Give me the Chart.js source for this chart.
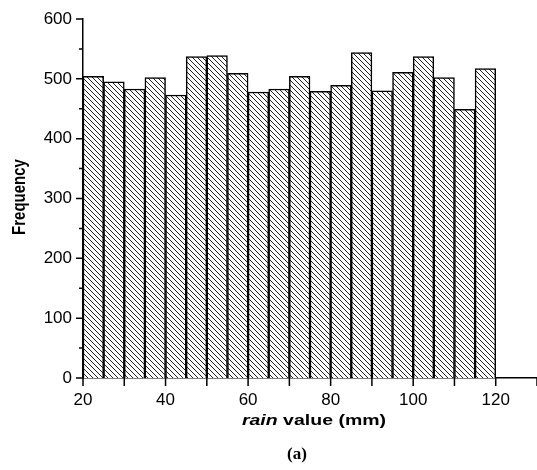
<!DOCTYPE html>
<html>
<head>
<meta charset="utf-8">
<script src="https://cdn.jsdelivr.net/npm/chart.js@4/dist/chart.umd.min.js"></script>
<style>
  body { margin: 0; background: #fff; }
  #wrap { width: 537px; height: 470px; position: relative; }
</style>
</head>
<body>
<div id="wrap"><canvas id="histChart"></canvas></div>
<script>
// histogram bins (5 mm wide), centres on the x axis
const binCenters = [22.5, 27.5, 32.5, 37.5, 42.5, 47.5, 52.5, 57.5, 62.5, 67.5,
                    72.5, 77.5, 82.5, 87.5, 92.5, 97.5, 102.5, 107.5, 112.5, 117.5];
const frequency = [504, 495, 483, 502, 473, 537, 539, 509, 478, 483,
                   504, 479, 489, 544, 480, 511, 537, 502, 449, 517];
const xTickLabels = [20, 40, 60, 80, 100, 120];
const xMinorTicks = [30, 50, 70, 90, 110, 130];
const yTickLabels = [0, 100, 200, 300, 400, 500, 600];
const yMinorTicks = [50, 150, 250, 350, 450, 550];

const FONT = "'Liberation Sans', Arial, sans-serif";

// "\\\\" hatch fill
function makeHatch() {
  const c = document.createElement("canvas");
  c.width = 5;
  c.height = 5;
  const g = c.getContext("2d");
  g.fillStyle = "#fff";
  g.fillRect(0, 0, 5, 5);
  g.fillStyle = "#222";
  for (let i = 0; i < 5; i++) g.fillRect(i, i, 1, 1);
  return g.createPattern(c, "repeat");
}

// ticks + axis titles drawn on top
const decorations = {
  id: "decorations",
  afterDraw(chart) {
    const ctx = chart.ctx;
    const xs = chart.scales.x;
    const ys = chart.scales.y;
    const axisY = ys.getPixelForValue(0);
    const axisX = xs.getPixelForValue(20);

    ctx.save();
    ctx.strokeStyle = "#000";
    ctx.lineWidth = 1.5;
    ctx.beginPath();
    yTickLabels.forEach(v => {
      const p = ys.getPixelForValue(v);
      ctx.moveTo(axisX - 7, p);
      ctx.lineTo(axisX, p);
    });
    yMinorTicks.forEach(v => {
      const p = ys.getPixelForValue(v);
      ctx.moveTo(axisX - 4, p);
      ctx.lineTo(axisX, p);
    });
    xTickLabels.concat(xMinorTicks).forEach(v => {
      const p = xs.getPixelForValue(v);
      ctx.moveTo(p, axisY);
      ctx.lineTo(p, axisY + 8);
    });
    ctx.stroke();

    ctx.fillStyle = "#000";
    ctx.textBaseline = "middle";

    // y title
    ctx.save();
    ctx.translate(20, 197);
    ctx.scale(1.25, 1);
    ctx.rotate(-Math.PI / 2);
    ctx.textAlign = "center";
    ctx.font = "bold 15px " + FONT;
    ctx.fillText("Frequency", 0, 0);
    ctx.restore();

    // x title: italic "rain" + " value (mm)"
    ctx.save();
    ctx.translate(314, 421);
    ctx.scale(1.3, 1);
    const partA = "rain";
    const partB = " value (mm)";
    ctx.font = "italic bold 15px " + FONT;
    const wa = ctx.measureText(partA).width;
    ctx.font = "bold 15px " + FONT;
    const wb = ctx.measureText(partB).width;
    let x0 = -(wa + wb) / 2;
    ctx.textAlign = "left";
    ctx.font = "italic bold 15px " + FONT;
    ctx.fillText(partA, x0, 0);
    ctx.font = "bold 15px " + FONT;
    ctx.fillText(partB, x0 + wa, 0);
    ctx.restore();

    // panel label
    ctx.textAlign = "center";
    ctx.font = "bold 17px 'Liberation Serif', 'Times New Roman', serif";
    ctx.fillText("(a)", 297, 455);
    ctx.restore();
  }
};

const ctx = document.getElementById("histChart");

new Chart(ctx, {
  type: "bar",
  data: {
    datasets: [{
      label: "Frequency",
      data: binCenters.map((x, i) => ({ x: x, y: frequency[i] })),
      backgroundColor: makeHatch(),
      borderColor: "#000",
      borderWidth: 1.5,
      barPercentage: 1,
      categoryPercentage: 1
    }]
  },
  options: {
    responsive: true,
    maintainAspectRatio: false,
    devicePixelRatio: 1,
    animation: false,
    layout: { padding: { top: 19, left: 0, right: 0, bottom: 0 } },
    plugins: {
      legend: { display: false },
      tooltip: { enabled: false }
    },
    scales: {
      x: {
        type: "linear",
        min: 20,
        max: 130,
        offset: false,
        grid: { display: false, drawTicks: false, offset: false },
        border: { display: true, color: "#000", width: 1.5 },
        ticks: {
          stepSize: 10,
          autoSkip: false,
          maxRotation: 0,
          padding: 12,
          color: "#000",
          font: { family: FONT, size: 17 },
          callback: v => (xTickLabels.includes(v) ? String(v) : "")
        },
        afterFit: s => {
          s.height = 92;
          s.paddingLeft = 0;
          s.paddingRight = 0;
        }
      },
      y: {
        min: 0,
        max: 600,
        grid: { display: false, drawTicks: false },
        border: { display: true, color: "#000", width: 1.5 },
        ticks: {
          stepSize: 50,
          autoSkip: false,
          padding: 11,
          color: "#000",
          font: { family: FONT, size: 17 },
          callback: v => (yTickLabels.includes(v) ? String(v) : "")
        },
        afterFit: s => {
          s.width = 83;
          s.paddingTop = 0;
          s.paddingBottom = 0;
        }
      }
    }
  },
  plugins: [decorations]
});
</script>
</body>
</html>
